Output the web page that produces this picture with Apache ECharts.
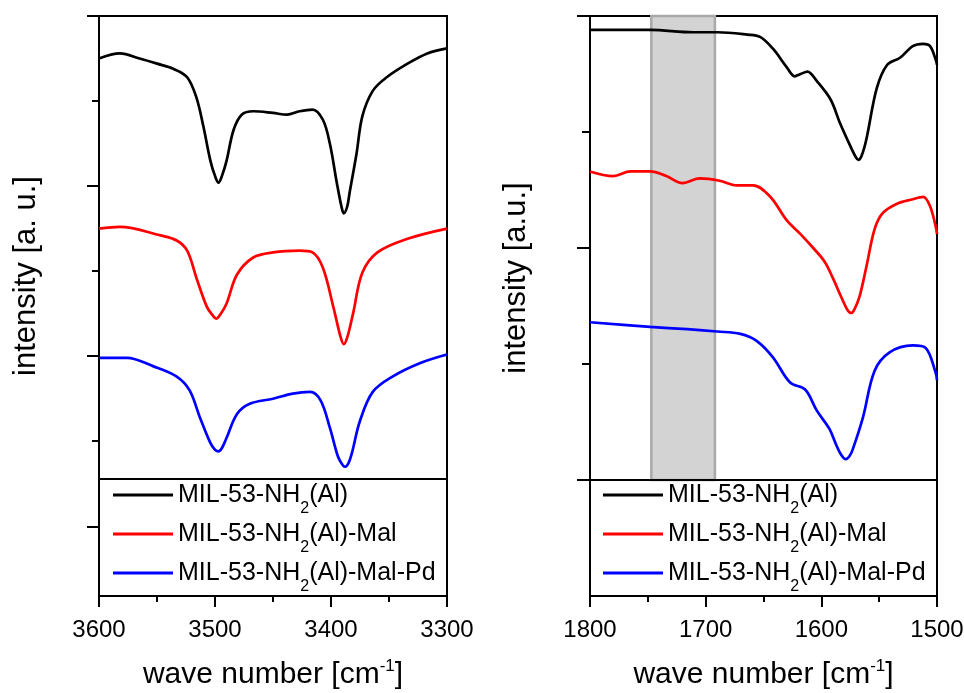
<!DOCTYPE html>
<html>
<head>
<meta charset="utf-8">
<script src="https://cdn.jsdelivr.net/npm/echarts@6/dist/echarts.min.js"></script>
<style>
  html, body { margin: 0; padding: 0; background: #fff; }
  #chart { width: 964px; height: 693px; }
</style>
</head>
<body>
<div id="chart"></div>
<script>
// FT-IR spectra of MIL-53-NH2(Al) and its modified forms (stacked, offset traces)

const seriesNames = ['MIL-53-NH2(Al)', 'MIL-53-NH2(Al)-Mal', 'MIL-53-NH2(Al)-Mal-Pd'];
const seriesColors = ['#000000', '#ff0000', '#0000ff'];

// N-H stretching region, 3600-3300 cm-1  [wave number, intensity (a.u.)]
const nhBlack = [
  [3600, 2.75], [3582, 2.78], [3565, 2.75], [3550, 2.72], [3536, 2.69], [3524, 2.64],
  [3516, 2.52], [3510, 2.35], [3504, 2.15], [3500, 2.06], [3497, 2.02], [3494, 2.06],
  [3490, 2.15], [3484, 2.33], [3477, 2.42], [3467, 2.44], [3450, 2.43], [3438, 2.42],
  [3427, 2.44], [3416, 2.45], [3407, 2.39], [3401, 2.25], [3395, 2.02], [3391, 1.88],
  [3389, 1.84], [3386, 1.88], [3384, 1.96], [3378, 2.19], [3373, 2.41], [3364, 2.56],
  [3352, 2.64], [3334, 2.72], [3317, 2.78], [3300, 2.81]
];
const nhRed = [
  [3600, 1.75], [3582, 1.76], [3547, 1.71], [3533, 1.68], [3524, 1.62], [3516, 1.46],
  [3507, 1.29], [3502, 1.24], [3499, 1.22], [3495, 1.25], [3490, 1.31], [3481, 1.48],
  [3467, 1.58], [3450, 1.61], [3427, 1.62], [3416, 1.61], [3407, 1.52], [3398, 1.29],
  [3392, 1.12], [3389, 1.07], [3386, 1.11], [3381, 1.25], [3373, 1.49], [3360, 1.61],
  [3334, 1.69], [3300, 1.75]
];
const nhBlue = [
  [3600, 0.99], [3576, 0.99], [3553, 0.94], [3533, 0.88], [3522, 0.80], [3513, 0.64],
  [3504, 0.49], [3500, 0.45], [3497, 0.44], [3494, 0.46], [3490, 0.52], [3481, 0.66],
  [3470, 0.72], [3450, 0.75], [3433, 0.78], [3418, 0.79], [3409, 0.74], [3401, 0.58],
  [3394, 0.41], [3390, 0.36], [3388, 0.35], [3385, 0.37], [3382, 0.43], [3375, 0.62],
  [3364, 0.79], [3347, 0.88], [3323, 0.96], [3300, 1.01]
];

// Carbonyl / ring region, 1800-1500 cm-1
const coBlack = [
  [1800, 1.94], [1748, 1.94], [1711, 1.93], [1690, 1.93], [1664, 1.92], [1653, 1.91],
  [1642, 1.86], [1630, 1.78], [1623, 1.74], [1618, 1.75], [1612, 1.76], [1604, 1.72],
  [1592, 1.64], [1584, 1.54], [1575, 1.44], [1570, 1.39], [1568, 1.38], [1565, 1.40],
  [1561, 1.47], [1552, 1.69], [1543, 1.79], [1532, 1.82], [1521, 1.87], [1512, 1.88],
  [1506, 1.87], [1501, 1.81], [1500, 1.79]
];
const coRed = [
  [1800, 1.33], [1780, 1.31], [1765, 1.33], [1748, 1.33], [1734, 1.31], [1720, 1.28],
  [1705, 1.30], [1688, 1.29], [1673, 1.27], [1659, 1.27], [1644, 1.22], [1630, 1.12],
  [1618, 1.06], [1607, 1.00], [1597, 0.94], [1590, 0.87], [1582, 0.78], [1577, 0.73],
  [1574, 0.72], [1571, 0.74], [1567, 0.79], [1561, 0.92], [1554, 1.08], [1547, 1.15],
  [1535, 1.19], [1521, 1.21], [1512, 1.22], [1506, 1.18], [1501, 1.09], [1500, 1.06]
];
const coBlue = [
  [1800, 0.68], [1748, 0.66], [1716, 0.65], [1690, 0.64], [1670, 0.63], [1656, 0.60],
  [1642, 0.53], [1627, 0.42], [1614, 0.39], [1604, 0.30], [1593, 0.22], [1587, 0.15],
  [1583, 0.11], [1579, 0.09], [1576, 0.10], [1573, 0.13], [1564, 0.27], [1554, 0.47],
  [1541, 0.55], [1521, 0.58], [1510, 0.57], [1501, 0.46], [1500, 0.43]
];

// Highlighted band (cm-1) in the carbonyl region
const bandRange = [1747, 1692];

// Axis ranges and tick positions
const nhRange = [3300, 3600];
const coRange = [1500, 1800];
const xInterval = 100;
const nhYRange = [-0.41, 3];
const nhMajorTicks = [0, 1, 2, 3];
const nhMinorTicks = [0.5, 1.5, 2.5];
const nhLegendTop = 0.28;
const coYRange = [-0.5, 2];
const coMajorTicks = [0, 1, 2];
const coMinorTicks = [0.5, 1.5];
const coLegendTop = 0;

const FONT = "'Liberation Sans', Arial, sans-serif";
const AXIS_W = 2;

function xAxisFor(gridIndex, range) {
  return {
    type: 'value', gridIndex: gridIndex, inverse: true,
    min: range[0], max: range[1], interval: xInterval,
    axisLine: { onZero: false, lineStyle: { color: '#000', width: AXIS_W } },
    axisTick: { show: true, inside: false, length: 11, lineStyle: { color: '#000', width: AXIS_W } },
    minorTick: { show: true, splitNumber: 2, length: 6, lineStyle: { color: '#000', width: AXIS_W } },
    splitLine: { show: false },
    axisLabel: {
      color: '#000', fontSize: 24, fontFamily: FONT, margin: 22,
      formatter: function (v) { return String(v); }
    },
    name: 'wave number [cm{sup|-1}]',
    nameLocation: 'middle', nameGap: 62,
    nameTextStyle: {
      color: '#000', fontSize: 30, fontFamily: FONT, lineHeight: 34,
      rich: { sup: { fontSize: 17, fontFamily: FONT, color: '#000', verticalAlign: 'top', lineHeight: 20 } }
    }
  };
}

function yAxisFor(gridIndex, range, ticks, len, showLine) {
  return {
    type: 'value', gridIndex: gridIndex, position: 'left',
    min: range[0], max: range[1],
    axisLine: { show: showLine, onZero: false, lineStyle: { color: '#000', width: AXIS_W } },
    axisTick: { show: true, inside: false, length: len, customValues: ticks, lineStyle: { color: '#000', width: AXIS_W } },
    axisLabel: { show: false },
    splitLine: { show: false }
  };
}

function traces(data, xi, yi) {
  return data.map(function (d, i) {
    return {
      name: seriesNames[i], type: 'line', xAxisIndex: xi, yAxisIndex: yi,
      data: d, smooth: 0.35, showSymbol: false, symbol: 'none', z: 3,
      lineStyle: { color: seriesColors[i], width: 2.7 },
      itemStyle: { color: seriesColors[i] }
    };
  });
}

function separator(xi, yi, value) {
  return {
    type: 'line', xAxisIndex: xi, yAxisIndex: yi, data: [], z: 5, silent: true,
    markLine: {
      silent: true, symbol: ['none', 'none'], label: { show: false },
      lineStyle: { color: '#000', width: AXIS_W, type: 'solid' },
      data: [{ yAxis: value }], animation: false
    }
  };
}

function legendFor(left) {
  return {
    orient: 'vertical', left: left, top: 473, padding: 0,
    itemWidth: 60, itemHeight: 3, itemGap: -5, icon: 'rect',
    data: seriesNames, selectedMode: false,
    formatter: function (name) { return name.replace('NH2', 'NH{sub|2}'); },
    textStyle: {
      color: '#000', fontSize: 25, fontFamily: FONT, lineHeight: 44,
      rich: { sub: { fontSize: 16, fontFamily: FONT, color: '#000', verticalAlign: 'bottom', lineHeight: 17 } }
    }
  };
}

const chart = echarts.init(document.getElementById('chart'), null, { renderer: 'canvas' });

const option = {
  animation: false,
  backgroundColor: '#fff',
  grid: [
    { left: 99, top: 16, width: 348, height: 580, outerBoundsMode: 'none', containLabel: false,
      show: true, borderColor: '#000', borderWidth: AXIS_W, backgroundColor: 'transparent' },
    { left: 590, top: 16, width: 347, height: 580, outerBoundsMode: 'none', containLabel: false,
      show: true, borderColor: '#000', borderWidth: AXIS_W, backgroundColor: 'transparent' }
  ],
  xAxis: [xAxisFor(0, nhRange), xAxisFor(1, coRange)],
  yAxis: [
    yAxisFor(0, nhYRange, nhMajorTicks, 12, true),
    yAxisFor(0, nhYRange, nhMinorTicks, 7, false),
    yAxisFor(1, coYRange, coMajorTicks, 13, true),
    yAxisFor(1, coYRange, coMinorTicks, 8, false)
  ],
  legend: [legendFor(113), legendFor(603)],
  graphic: [
    { type: 'text', x: 26, y: 276, rotation: Math.PI / 2,
      style: { text: 'intensity [a. u.]', fill: '#000', font: '31px ' + FONT, align: 'center', verticalAlign: 'middle' } },
    { type: 'text', x: 516, y: 278, rotation: Math.PI / 2,
      style: { text: 'intensity [a.u.]', fill: '#000', font: '31px ' + FONT, align: 'center', verticalAlign: 'middle' } }
  ],
  series: [
    {
      type: 'line', xAxisIndex: 1, yAxisIndex: 2, data: [], z: 1, silent: true,
      markArea: {
        silent: true,
        itemStyle: { color: '#d3d3d3', borderColor: '#a9a9a9', borderWidth: 2.5, opacity: 1 },
        data: [[{ xAxis: bandRange[0], yAxis: coYRange[1] }, { xAxis: bandRange[1], yAxis: coLegendTop }]]
      }
    },
    ...traces([nhBlack, nhRed, nhBlue], 0, 0),
    ...traces([coBlack, coRed, coBlue], 1, 2),
    separator(0, 0, nhLegendTop),
    separator(1, 2, coLegendTop)
  ]
};

chart.setOption(option);
</script>
</body>
</html>
